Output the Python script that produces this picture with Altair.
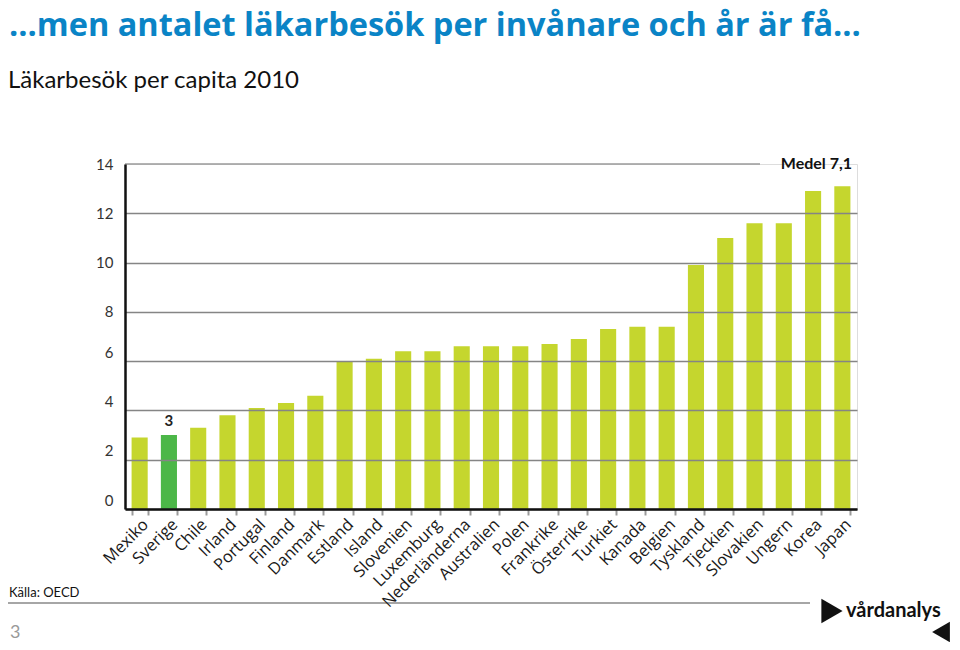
import altair as alt
import pandas as pd

countries = ["Mexiko", "Sverige", "Chile", "Irland", "Portugal", "Finland", "Danmark",
             "Estland", "Island", "Slovenien", "Luxemburg", "Nederländerna", "Australien",
             "Polen", "Frankrike", "Österrike", "Turkiet", "Kanada", "Belgien", "Tyskland",
             "Tjeckien", "Slovakien", "Ungern", "Korea", "Japan"]
visits = [2.9, 3.0, 3.3, 3.8, 4.1, 4.3, 4.6, 6.0, 6.1, 6.4, 6.4, 6.6, 6.6, 6.6, 6.7,
          6.9, 7.3, 7.4, 7.4, 9.9, 11.0, 11.6, 11.6, 12.9, 13.1]
y_ticks = [0, 2, 4, 6, 8, 10, 12, 14]
highlight = "Sverige"
mean_label = "Medel 7,1"
title_text = "…men antalet läkarbesök per invånare och år är få…"
subtitle_text = "Läkarbesök per capita 2010"
source_text = "Källa: OECD"
page_no = "3"
logo_text = "vårdanalys"

df = pd.DataFrame({"land": countries, "besok": visits})

W, H = 732, 345
LIME = "#c5d62e"
GREEN = "#4cb748"
GRID = "#858585"

yscale = alt.Scale(domain=[0, 14], nice=False)

base = alt.Chart(df)

bars = base.mark_bar().encode(
    x=alt.X("land:N", sort=countries,
            scale=alt.Scale(paddingInner=0.45, paddingOuter=0.225),
            axis=alt.Axis(title=None, labelAngle=-45, labelAlign="right", labelBaseline="top",
                          labelFont="Open Sans", labelFontSize=16.5, labelColor="#1a1a1a",
                          tickBand="extent", tickColor="#9a9a9a", tickSize=6, tickWidth=2,
                          domainColor="#111", domainWidth=2.5, labelPadding=1, zindex=1)),
    y=alt.Y("besok:Q", scale=yscale,
            axis=alt.Axis(title=None, values=y_ticks, ticks=False, labelPadding=12,
                          labelFont="Lato", labelFontSize=15, labelColor="#333",
                          domainColor="#111", domainWidth=2.5, zindex=1,
                          gridColor=GRID, gridWidth=1.5,
                          gridOpacity={"condition": {"test": "datum.value == 14", "value": 0}, "value": 1},
                          labelOffset={"condition": {"test": "datum.value <= 6", "value": -9}, "value": 0})),
    color=alt.condition(f"datum.land == '{highlight}'", alt.value(GREEN), alt.value(LIME)),
)

hl_label = base.transform_filter(f"datum.land == '{highlight}'").mark_text(
    font="Lato", fontWeight="bold", fontSize=15, color="#222", baseline="bottom", dy=-6
).encode(
    x=alt.X("land:N", sort=countries),
    y=alt.Y("besok:Q", scale=yscale),
    text=alt.Text("besok:Q", format=".0f"),
)

one = alt.Chart(pd.DataFrame({"a": [0]}))

top_rule = one.mark_rule(color="#9a9a9a", strokeWidth=1.5).encode(
    y=alt.Y(datum=14, scale=yscale), x=alt.value(0), x2=alt.value(635)
)
mean_txt = one.mark_text(font="Lato", fontWeight="bold", fontSize=16, color="#111",
                         align="right", baseline="middle").encode(
    y=alt.Y(datum=14, scale=yscale), x=alt.value(727), text=alt.value(mean_label)
)

title = one.mark_text(font="Open Sans", fontWeight="bold", fontSize=32.5, color="#0a84c6",
                      align="left", baseline="alphabetic").encode(
    x=alt.value(-116), y=alt.value(-128), text=alt.value(title_text))
subtitle = one.mark_text(font="Lato", fontSize=24, color="#111",
                         align="left", baseline="alphabetic").encode(
    x=alt.value(-117), y=alt.value(-76), text=alt.value(subtitle_text))
source = one.mark_text(font="Lato", fontSize=13, color="#111",
                       align="left", baseline="alphabetic").encode(
    x=alt.value(-116), y=alt.value(433), text=alt.value(source_text))
footer_rule = one.mark_rule(color="#a6a6a6", strokeWidth=2).encode(
    x=alt.value(-125), x2=alt.value(685), y=alt.value(439))
page = one.mark_text(font="Lato", fontSize=18, color="#999",
                     align="left", baseline="alphabetic").encode(
    x=alt.value(-115), y=alt.value(474), text=alt.value(page_no))
logo_t = one.mark_text(font="Lato", fontWeight="bold", fontSize=20, color="#111",
                       align="left", baseline="alphabetic").encode(
    x=alt.value(721), y=alt.value(453), text=alt.value(logo_text))
tri_r = one.mark_point(shape="triangle-right", filled=True, color="#111", size=600, opacity=1).encode(
    x=alt.value(707), y=alt.value(447))
tri_l = one.mark_point(shape="triangle-left", filled=True, color="#111", size=420, opacity=1).encode(
    x=alt.value(816), y=alt.value(468))

chart = alt.layer(
    bars, hl_label, top_rule, mean_txt, title, subtitle, source, footer_rule, page,
    logo_t, tri_r, tri_l
).properties(
    width=W, height=H,
    autosize=alt.AutoSizeParams(type="none"),
    padding={"left": 117, "top": 156, "right": 95, "bottom": 133},
).configure_view(stroke=None).configure(background="white")

chart.save("out.html", embed_options={"renderer": "svg", "actions": False})
